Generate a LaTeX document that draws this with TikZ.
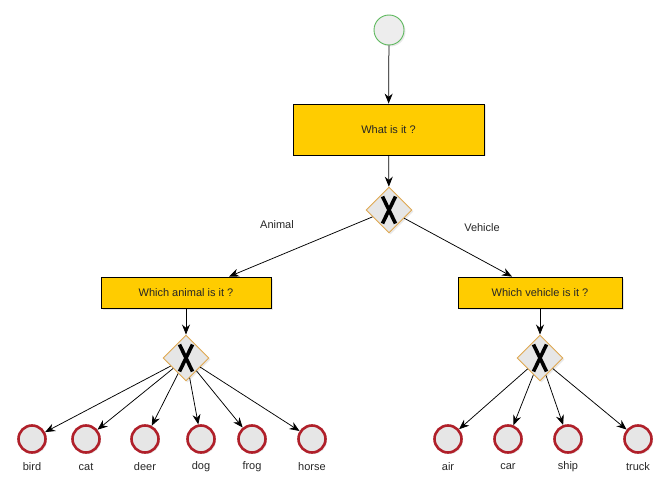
\documentclass[tikz,border=0pt]{standalone}
\usepackage{fontspec}
\setmainfont{Liberation Sans}
\usetikzlibrary{shapes.geometric,arrows.meta,shadows}
\definecolor{taskfill}{HTML}{FFCC00}
\definecolor{startline}{HTML}{5CB85C}
\definecolor{endline}{HTML}{B0202A}
\definecolor{gateline}{HTML}{E0A850}
\definecolor{eventfill}{HTML}{E6E6E6}
\begin{document}
\begin{tikzpicture}[x=1pt,y=-1pt,
  font=\fontsize{11}{13}\selectfont, text=black!85,
  softshadow/.style={drop shadow={opacity=0.18,shadow xshift=1.5pt,shadow yshift=-1.5pt}},
  task/.style={draw=black, line width=0.8pt, fill=taskfill, rectangle, inner sep=0pt, softshadow},
  startev/.style={circle, draw=startline, line width=0.9pt, fill=eventfill!70, minimum size=30pt, inner sep=0pt, softshadow},
  endev/.style={circle, draw=endline, line width=2.6pt, fill=eventfill, minimum size=27pt, inner sep=0pt, softshadow},
  gateway/.style={diamond, draw=gateline, line width=0.9pt, fill=eventfill, minimum width=46pt, minimum height=46pt, inner sep=0pt, softshadow},
  flow/.style={draw=black, line width=0.75pt, -{Stealth[length=10pt,width=8pt]}},
  lbl/.style={inner sep=0pt}
]
\useasboundingbox (0,0) rectangle (670,492);

% exclusive gateway marker
\newcommand{\xmark}[1]{%
  \draw[line width=3.6pt, line cap=butt] ([shift={(-6.5,-13.5)}]#1.center) -- ([shift={(6.5,13.5)}]#1.center)
    ([shift={(6.5,-13.5)}]#1.center) -- ([shift={(-6.5,13.5)}]#1.center);}

% start event and top-level task
\node[startev] (start) at (389,30) {};
\node[task, minimum width=191pt, minimum height=51pt] (what) at (388.5,129.5) {What is it ?};
\node[gateway] (g1) at (389,210) {};
\xmark{g1}

% sub tasks
\node[task, minimum width=170pt, minimum height=31pt] (animal) at (186,292.5) {Which animal is it ?};
\node[task, minimum width=164pt, minimum height=31pt] (vehicle) at (540,292.5) {Which vehicle is it ?};
\node[gateway] (g2) at (186,358) {};
\xmark{g2}
\node[gateway] (g3) at (540,358) {};
\xmark{g3}

% end events
\foreach \name/\x in {bird/32, cat/86, deer/145, dog/201, frog/252, horse/312,
                      air/448, car/508, ship/568, truck/638} {
  \node[endev] (\name) at (\x,439) {};
  \node[lbl] (\name-t) at (\x,467) {\name};
}

% flows
\draw[flow] (start) -- (what);
\draw[flow] (what) -- (g1);
\draw[flow] (g1) -- ([xshift=43pt]animal.north);
\draw[flow] (g1) -- ([xshift=-28pt]vehicle.north);
\draw[flow] (animal) -- (g2);
\draw[flow] (vehicle) -- (g3);
\foreach \name in {bird,cat,deer,dog,frog,horse} \draw[flow] (g2) -- (\name);
\foreach \name in {air,car,ship,truck} \draw[flow] (g3) -- (\name);

% branch labels
\node[lbl] (animal-l) at (277,225) {Animal};
\node[lbl] (vehicle-l) at (482,228) {Vehicle};
\end{tikzpicture}
\end{document}
